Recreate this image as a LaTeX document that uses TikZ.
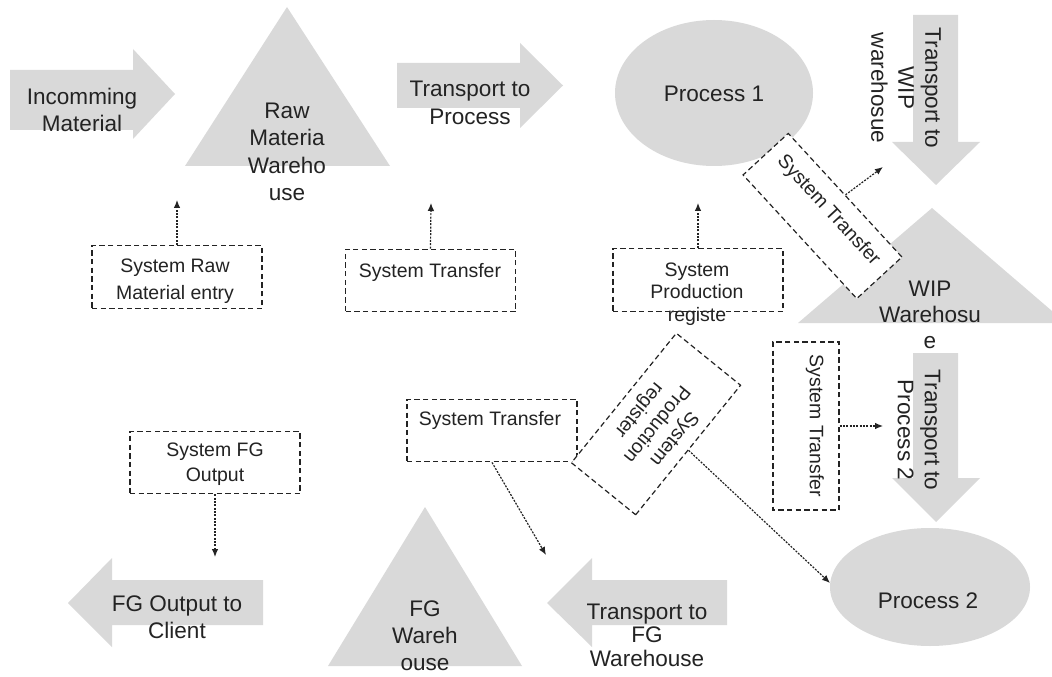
\documentclass[tikz,border=0pt]{standalone}
\usepackage{fontspec}
\setmainfont{Liberation Sans}
\usetikzlibrary{arrows.meta,calc,shapes.geometric}
\definecolor{shapegray}{RGB}{217,217,217}
\definecolor{ink}{RGB}{35,35,35}
\begin{document}
\begin{tikzpicture}[x=0.75pt,y=-0.75pt,
  blockfill/.style={fill=shapegray,draw=none},
  bigtext/.style={font=\fontsize{16.9}{20.25}\selectfont, text=ink, align=center, inner sep=0pt},
  smalltext/.style={font=\fontsize{14.6}{20}\selectfont, text=ink, align=center, inner sep=0pt},
  sysbox/.style={draw=ink, dash pattern=on 4pt off 2.5pt, line width=0.9pt, fill=white,
    minimum width=127.5pt, minimum height=47pt, inner sep=0pt},
  sysarrow/.style={draw=ink, dash pattern=on 1.5pt off 1pt, line width=0.9pt,
    -{Latex[length=6pt,width=5pt]}},
  procshape/.style={ellipse, fill=shapegray, draw=none, inner sep=0pt}]
\useasboundingbox (0,0) rectangle (1052,677);

% ---- grey block arrows and triangles ----
\fill[blockfill] (10,70) -- (133,70) -- (133,49) -- (175,94) -- (133,139) -- (133,130) -- (10,130) -- cycle;
\fill[blockfill] (287,7) -- (390,166) -- (185,166) -- cycle;
\fill[blockfill] (397,63) -- (520,63) -- (520,43) -- (563,85.5) -- (520,128) -- (520,108) -- (397,108) -- cycle;
\node[procshape, minimum width=148.5pt, minimum height=109.5pt] (p1) at (714,93) {};
\fill[blockfill] (913,15) -- (958,15) -- (958,142) -- (980,142) -- (936,185) -- (892,142) -- (913,142) -- cycle;
\fill[blockfill] (932,208) -- (1052,311) -- (1052,323) -- (798,323) -- cycle;
\fill[blockfill] (913,353) -- (958,353) -- (958,478) -- (980,478) -- (936,522) -- (892,478) -- (913,478) -- cycle;
\node[procshape, minimum width=150pt, minimum height=88.5pt] (p2) at (930,587) {};
\fill[blockfill] (727,580) -- (592,580) -- (592,558) -- (547,603) -- (592,647) -- (592,625) -- (727,625) -- cycle;
\fill[blockfill] (425,507) -- (522,666) -- (328,666) -- cycle;
\fill[blockfill] (263,580) -- (112,580) -- (112,558) -- (68,603) -- (112,647) -- (112,625) -- (263,625) -- cycle;

% ---- labels of grey shapes ----
\node[bigtext] (tIn) at (82,110) {Incomming\\Material};
\node[bigtext, font=\fontsize{16.9}{20.5}\selectfont] (tRaw) at (287,152) {Raw\\Materia\\Wareho\\use};
\node[bigtext, font=\fontsize{16.9}{21}\selectfont] (tTP) at (470,103) {Transport to\\Process};
\node[bigtext] (p1label) at (714,94) {Process 1};
\node[bigtext, rotate=-90] (tTW) at (906,88) {Transport to\\WIP\\warehosue};
\node[bigtext, font=\fontsize{16.9}{19.5}\selectfont] (tWIP) at (930,315) {WIP\\Warehosu\\e};
\node[bigtext, rotate=-90] (tTP2) at (919,430) {Transport to\\Process 2};
\node[bigtext] (p2label) at (928,601) {Process 2};
\node[bigtext, font=\fontsize{16.9}{17.6}\selectfont] (tTFG) at (647,635) {Transport to\\FG\\Warehouse};
\node[bigtext] (tFG) at (425,636) {FG\\Wareh\\ouse};
\node[bigtext] (tOut) at (177,617) {FG Output to\\Client};

% ---- dashed system boxes ----
\node[sysbox] (rawbox) at (177,277) {};
\node[smalltext, font=\fontsize{14.6}{20.25}\selectfont] (rawboxt) at (175,281) {System Raw\\Material entry};
\node[sysbox] (trbox) at (430.5,280.5) {};
\node[smalltext] (trboxt) at (430,272) {System Transfer};
\node[sysbox] (prbox) at (698,280) {};
\node[smalltext, font=\fontsize{14.6}{16.9}\selectfont] (prboxt) at (697,294) {System\\Production\\registe};
\node[sysbox] (btbox) at (492,430.5) {};
\node[smalltext] (btboxt) at (490,420) {System Transfer};
\node[sysbox] (fgbox) at (215,462.5) {};
\node[smalltext, font=\fontsize{14.6}{18.75}\selectfont] (fgboxt) at (215,464) {System FG\\Output};
\node[sysbox, rotate=-90, minimum width=126pt, minimum height=49.5pt] (vtbox) at (806,426) {};
\node[smalltext, rotate=-90] (vtboxt) at ($(vtbox.center)!6.75pt!(vtbox.north)$) {System Transfer};
\node[sysbox, rotate=-47.4, minimum width=126pt, minimum height=46pt] (stA) at (822.5,216) {};
\node[smalltext, rotate=-47.4] (stAt) at ($(stA.center)!6pt!(stA.north)$) {System Transfer};
\node[sysbox, rotate=231, minimum width=125pt, minimum height=62pt] (prB) at (656,424) {};
\node[smalltext, rotate=231, font=\fontsize{14.6}{17}\selectfont] (prBt) at (prB.center) {System\\Production\\register};

% ---- dashed connectors ----
\coordinate (rawtip) at (177,200);
\coordinate (trtip) at (431,203);
\coordinate (prtip) at (698,203);
\coordinate (fgtip) at (215,557);
\coordinate (vttip) at (883,426);
\coordinate (bttip) at (546,555);
\coordinate (sttip) at (883,167);
\coordinate (prBtip) at (830,583);
\draw[sysarrow] (rawbox.north) -- (rawtip);
\draw[sysarrow] (trbox.north) -- (trtip);
\draw[sysarrow] (prbox.north) -- (prtip);
\draw[sysarrow] (fgbox.south) -- (fgtip);
\draw[sysarrow] (vtbox.north) -- (vttip);
\draw[sysarrow] (btbox.south) -- (bttip);
\draw[sysarrow] (stA.north) -- (sttip);
\draw[sysarrow] (prB.north) -- (prBtip);
\end{tikzpicture}
\end{document}
